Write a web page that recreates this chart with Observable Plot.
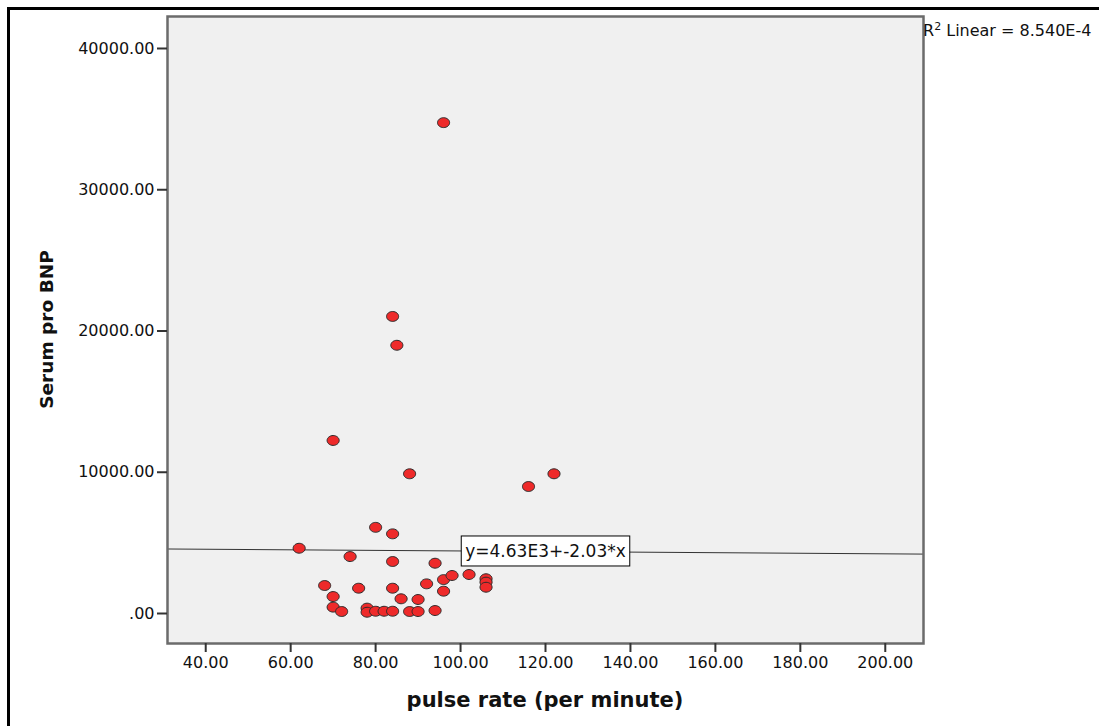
<!DOCTYPE html>
<html>
<head>
<meta charset="utf-8">
<script src="https://cdn.jsdelivr.net/npm/d3@7"></script>
<script src="https://cdn.jsdelivr.net/npm/@observablehq/plot@0.6"></script>
<style>
  html, body { margin: 0; padding: 0; background: #fff; overflow: hidden; }
  #chart { width: 1099px; height: 726px; }
</style>
</head>
<body>
<div id="chart"></div>
<script>
// ---- data ----
const pulse = [96, 84, 85, 70, 88, 122, 116, 80, 84, 62, 74, 84, 94, 68, 76, 84, 92, 96, 98, 102, 106, 106, 106, 96, 70, 86, 90, 70, 72, 78, 78, 80, 82, 84, 88, 90, 94];
const bnp   = [34750, 21030, 18990, 12250, 9890, 9890, 8990, 6100, 5640, 4620, 4030, 3680, 3560, 1980, 1790, 1790, 2100, 2400, 2690, 2760, 2460, 2220, 1860, 1580, 1200, 1040, 990, 450, 140, 380, 90, 160, 160, 160, 140, 140, 210];
const xTicks = [40, 60, 80, 100, 120, 140, 160, 180, 200];
const yTicks = [0, 10000, 20000, 30000, 40000];
const xDomain = [31, 209];
const yDomain = [-2124, 42265];
const intercept = 4630;
const slope = -2.03;
const fitLabel = "y=4.63E3+-2.03*x";
const fitLabelX = 120;
const r2Text = ["R", "2", " Linear = 8.540E-4"];
const xTitle = "pulse rate (per minute)";
const yTitle = "Serum pro BNP";

const points = pulse.map((p, i) => ({pulse: p, bnp: bnp[i]}));
const fitLine = xDomain.map(x => ({x, y: intercept + slope * x}));
const fitText = [{x: fitLabelX, y: intercept + slope * fitLabelX, t: fitLabel}];

const fmt = d => d === 0 ? ".00" : d.toFixed(2);

// slightly wide ellipse symbol (as in the reference)
const ellipse = {
  draw(ctx, size) {
    const r = Math.sqrt(size / Math.PI);
    const rx = r * 1.1, ry = r * 0.9, k = 0.5523;
    ctx.moveTo(rx, 0);
    ctx.bezierCurveTo(rx, ry * k, rx * k, ry, 0, ry);
    ctx.bezierCurveTo(-rx * k, ry, -rx, ry * k, -rx, 0);
    ctx.bezierCurveTo(-rx, -ry * k, -rx * k, -ry, 0, -ry);
    ctx.bezierCurveTo(rx * k, -ry, rx, -ry * k, rx, 0);
    ctx.closePath();
  }
};

const W = 1099, H = 726, mL = 167, mR = 176, mT = 16, mB = 83;

const chart = Plot.plot({
  width: W, height: H,
  marginLeft: mL, marginRight: mR, marginTop: mT, marginBottom: mB,
  style: {fontFamily: "DejaVu Sans", fontSize: "16px", color: "#111", background: "#fff", overflow: "hidden"},
  x: {domain: xDomain},
  y: {domain: yDomain},
  marks: [
    Plot.frame({fill: "#f0f0f0", stroke: null}),
    Plot.line(fitLine, {x: "x", y: "y", stroke: "#333", strokeWidth: 1}),
    Plot.dot(points, {x: "pulse", y: "bnp", r: 5.5, symbol: ellipse, fill: "#ee2a2a", stroke: "#2a2a2a", strokeWidth: 1}),
    Plot.text(fitText, {x: "x", y: "y", text: "t", fontSize: 17, fill: "#111", textAnchor: "middle"}),
    Plot.frame({stroke: "#6b6b6b", strokeWidth: 2.5}),
    Plot.axisX({ticks: xTicks, tickFormat: fmt, tickSize: 9, tickPadding: 4, label: null, stroke: "#333", strokeWidth: 2, fontSize: 16}),
    Plot.axisY({ticks: yTicks, tickFormat: fmt, tickSize: 10, tickPadding: 3, label: null, stroke: "#333", strokeWidth: 2, fontSize: 16})
  ]
});

document.getElementById("chart").appendChild(chart);

const svg = d3.select(chart);

// white box behind the fit equation
const t = chart.querySelector('g[aria-label="text"] text');
if (t) {
  const bb = t.getBBox();
  const padX = 4, padY = 5;
  d3.select(t.parentNode).insert("rect", () => t)
    .attr("x", bb.x - padX).attr("y", bb.y - padY)
    .attr("width", bb.width + 2 * padX).attr("height", bb.height + 2 * padY)
    .attr("transform", t.getAttribute("transform"))
    .attr("fill", "#fff").attr("stroke", "#000").attr("stroke-width", 1);
}

// outer black border of the output panel
svg.insert("rect", ":first-child")
  .attr("x", 8.5).attr("y", 8.5).attr("width", 2000).attr("height", 2000)
  .attr("fill", "none").attr("stroke", "#000").attr("stroke-width", 3);

// R² annotation
const r2 = svg.append("text")
  .attr("x", W - mR).attr("y", 36)
  .attr("text-anchor", "start")
  .attr("font-family", "DejaVu Sans").attr("font-size", 16).attr("fill", "#111");
r2.append("tspan").text(r2Text[0]);
r2.append("tspan").attr("font-size", 11).attr("dy", -6).text(r2Text[1]);
r2.append("tspan").attr("dy", 6).text(r2Text[2]);

// axis titles
svg.append("text")
  .attr("x", mL + (W - mL - mR) / 2).attr("y", 707)
  .attr("text-anchor", "middle")
  .attr("font-family", "DejaVu Sans").attr("font-weight", "bold").attr("font-size", 21).attr("fill", "#111")
  .text(xTitle);

svg.append("text")
  .attr("transform", `translate(53,${mT + (H - mT - mB) / 2}) rotate(-90)`)
  .attr("text-anchor", "middle")
  .attr("font-family", "DejaVu Sans").attr("font-weight", "bold").attr("font-size", 18.5).attr("fill", "#111")
  .text(yTitle);
</script>
</body>
</html>
